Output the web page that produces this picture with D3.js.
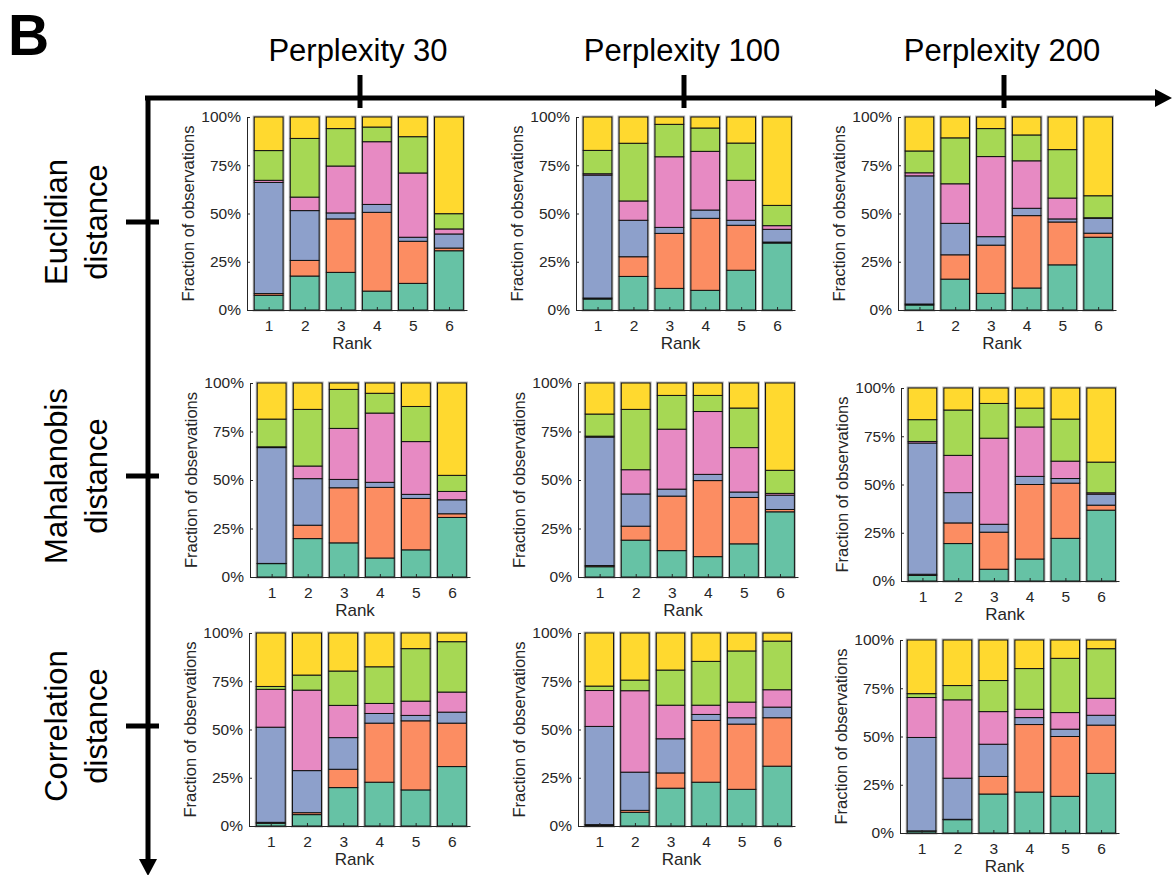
<!doctype html>
<html>
<head>
<meta charset="utf-8">
<title>Rank fractions by distance and perplexity</title>
<script src="https://d3js.org/d3.v7.min.js"></script>
<style>
  body { margin: 0; background: #fff; }
  text { font-family: "Liberation Sans", Arial, sans-serif; }
</style>
</head>
<body>
<script>

const w = 1172;
const h = 875;

// cumulative tops (in %) of the first five segments of each bar, bottom to top;
// the sixth (yellow) segment always runs up to 100%
const euc30 = [
  [7.6, 8.5, 66.1, 67.2, 82.6],
  [17.6, 25.7, 51.5, 58.5, 88.9],
  [19.5, 47.2, 50.3, 74.6, 94.0],
  [9.8, 50.6, 54.7, 87.2, 94.8],
  [13.8, 35.6, 37.7, 71.0, 89.8],
  [30.7, 32.1, 39.4, 42.0, 49.9]
];
const euc100 = [
  [5.7, 6.2, 69.9, 70.6, 82.7],
  [17.4, 27.6, 46.5, 56.5, 86.4],
  [11.2, 39.7, 42.8, 79.4, 96.2],
  [10.2, 47.5, 51.8, 82.2, 94.3],
  [20.6, 43.9, 46.5, 67.2, 86.5],
  [34.7, 35.2, 41.8, 43.7, 54.2]
];
const euc200 = [
  [2.6, 3.1, 69.5, 71.1, 82.4],
  [16.0, 28.6, 44.9, 65.4, 89.2],
  [8.6, 33.6, 38.0, 79.5, 94.0],
  [11.4, 48.9, 52.7, 77.3, 90.7],
  [23.4, 45.6, 47.2, 58.0, 83.1],
  [37.7, 39.8, 47.5, 47.8, 59.2]
];
const mah30 = [
  [6.9, 7.0, 66.7, 67.1, 81.4],
  [19.8, 26.7, 50.7, 57.2, 86.4],
  [17.6, 46.0, 50.3, 76.6, 96.7],
  [9.8, 46.2, 48.8, 84.5, 94.7],
  [14.0, 40.5, 42.6, 69.8, 87.9],
  [30.7, 32.6, 39.8, 44.1, 52.4]
];
const mah100 = [
  [5.3, 5.9, 72.1, 72.6, 84.0],
  [19.0, 26.2, 42.8, 55.3, 86.4],
  [13.6, 41.7, 45.3, 76.2, 93.6],
  [10.5, 49.7, 52.9, 85.3, 93.6],
  [17.1, 41.0, 43.8, 66.7, 87.1],
  [33.6, 34.8, 42.2, 43.1, 55.0]
];
const mah200 = [
  [2.9, 3.5, 71.5, 72.3, 83.6],
  [19.4, 30.1, 45.8, 65.1, 88.6],
  [6.1, 25.3, 29.4, 74.0, 92.0],
  [11.4, 50.0, 54.2, 79.8, 89.6],
  [22.1, 50.7, 53.1, 62.1, 83.9],
  [36.7, 39.3, 45.0, 45.7, 61.6]
];
const cor30 = [
  [1.4, 1.9, 51.2, 70.8, 72.3],
  [5.9, 6.9, 28.7, 70.4, 78.2],
  [19.9, 29.4, 45.8, 62.5, 80.3],
  [22.7, 53.3, 58.3, 63.5, 82.5],
  [18.7, 54.5, 57.3, 64.7, 91.9],
  [30.8, 53.3, 59.0, 69.4, 95.5]
];
const cor100 = [
  [0.5, 0.7, 51.6, 70.2, 72.5],
  [7.1, 8.1, 27.9, 70.1, 75.6],
  [19.6, 27.5, 45.2, 62.6, 80.8],
  [22.7, 54.7, 57.8, 62.6, 85.3],
  [19.0, 52.8, 56.1, 64.2, 90.7],
  [31.0, 56.1, 61.6, 70.6, 95.8]
];
const cor200 = [
  [1.0, 1.1, 49.5, 70.2, 72.2],
  [6.9, 7.1, 28.4, 69.0, 76.4],
  [20.2, 29.3, 46.0, 62.9, 79.0],
  [21.2, 56.2, 59.8, 64.1, 85.2],
  [19.0, 50.0, 53.8, 62.4, 90.5],
  [30.9, 55.9, 61.0, 69.8, 95.5]
];

const ranks = [1, 2, 3, 4, 5, 6];
const yTicks = [0, 25, 50, 75, 100];
const perplexities = ["Perplexity 30", "Perplexity 100", "Perplexity 200"];
const distances = [["Euclidian", "distance"], ["Mahalanobis", "distance"], ["Correlation", "distance"]];
const segColors = ["#66c2a5", "#fc8d62", "#8da0cb", "#e78ac3", "#a6d854", "#ffd92f"];

// panel boxes: left, right, top, bottom of each plot area
const panels = [
  { data: euc30,  box: [247, 467, 117, 310] },
  { data: euc100, box: [576, 795, 117, 310] },
  { data: euc200, box: [898, 1116, 117, 310] },
  { data: mah30,  box: [250, 470, 383, 577] },
  { data: mah100, box: [578, 798, 383, 577] },
  { data: mah200, box: [901, 1119, 388, 581] },
  { data: cor30,  box: [249, 470, 633, 826] },
  { data: cor100, box: [578, 795, 633, 826] },
  { data: cor200, box: [900, 1119, 640, 833] }
];

const svg = d3.select("body").append("svg")
  .attr("width", w)
  .attr("height", h);

// panel letter
svg.append("text")
  .attr("x", 8).attr("y", 55)
  .style("font-size", "57px").style("font-weight", "bold")
  .text("B");

// big frame with arrows
const frame = svg.append("g").attr("stroke", "#000").attr("stroke-width", 5);
frame.append("line").attr("x1", 145).attr("x2", 1158).attr("y1", 98).attr("y2", 98);
frame.append("line").attr("x1", 148).attr("x2", 148).attr("y1", 96).attr("y2", 862);
svg.append("path").attr("d", "M1172,98 L1155,89 L1155,107 Z").attr("fill", "#000");
svg.append("path").attr("d", "M148,876 L139,859 L157,859 Z").attr("fill", "#000");

const colTicks = [360, 684, 1004];
const rowTicks = [222, 476, 726];

colTicks.forEach(function(cx, i) {
  frame.append("line").attr("x1", cx).attr("x2", cx).attr("y1", 75).attr("y2", 108);
  svg.append("text")
    .attr("x", cx - 2).attr("y", 61)
    .attr("text-anchor", "middle")
    .style("font-size", "31px")
    .text(perplexities[i]);
});

rowTicks.forEach(function(cy, i) {
  frame.append("line").attr("x1", 126).attr("x2", 159).attr("y1", cy).attr("y2", cy);
  distances[i].forEach(function(line, j) {
    svg.append("text")
      .attr("transform", "translate(" + (67 + j * 40) + "," + cy + ") rotate(-90)")
      .attr("text-anchor", "middle")
      .style("font-size", "31px")
      .text(line);
  });
});

panels.forEach(function(p) {
  const [L, R, T, B] = p.box;
  const x = d3.scaleLinear().domain([0.4, 6.5]).range([L, R]);
  const y = d3.scaleLinear().domain([0, 100]).range([B, T]);
  const bw = x(1.8) - x(1);
  const g = svg.append("g");

  // turn cumulative tops into [from, to] pieces
  const bars = p.data.map(function(tops, i) {
    const edges = [0].concat(tops, [100]);
    return {
      rank: ranks[i],
      segs: segColors.map(function(c, k) { return { y0: edges[k], y1: edges[k + 1], color: c }; })
    };
  });

  const barG = g.selectAll(".bar")
    .data(bars)
    .enter().append("g")
    .attr("class", "bar");

  // soft grey halo around each bar
  barG.append("rect")
    .attr("x", d => x(d.rank) - bw / 2)
    .attr("width", bw)
    .attr("y", y(100))
    .attr("height", y(0) - y(100))
    .attr("fill", "none")
    .attr("stroke", "#b4b4b4")
    .attr("stroke-width", 3);

  barG.selectAll(".seg")
    .data(d => d.segs.map(s => Object.assign({ rank: d.rank }, s)))
    .enter().append("rect")
    .attr("class", "seg")
    .attr("x", d => x(d.rank) - bw / 2)
    .attr("width", bw)
    .attr("y", d => y(d.y1))
    .attr("height", d => y(d.y0) - y(d.y1))
    .attr("fill", d => d.color)
    .attr("stroke", "#111")
    .attr("stroke-width", 1);

  const yAxis = g.append("g")
    .attr("transform", "translate(" + L + ",0)")
    .call(d3.axisLeft(y).tickValues(yTicks).tickFormat(d => d + "%").tickSizeInner(-3).tickSizeOuter(0).tickPadding(6));

  const xAxis = g.append("g")
    .attr("transform", "translate(0," + B + ")")
    .call(d3.axisBottom(x).tickValues(ranks).tickFormat(d3.format("d")).tickSizeInner(-3).tickSizeOuter(0).tickPadding(10));

  [yAxis, xAxis].forEach(function(a) {
    a.select(".domain").attr("stroke", "#262626");
    a.selectAll(".tick line").attr("stroke", "#262626");
    a.selectAll("text").attr("fill", "#262626").style("font-size", "15.5px")
      .style("font-family", "'Liberation Sans', Arial, sans-serif");
  });

  g.append("text")
    .attr("x", (L + R) / 2 - 5)
    .attr("y", B + 39)
    .attr("text-anchor", "middle")
    .attr("fill", "#262626")
    .style("font-size", "17px")
    .text("Rank");

  g.append("text")
    .attr("transform", "translate(" + (L - 59) + "," + ((T + B) / 2) + ") rotate(-90)")
    .attr("text-anchor", "middle")
    .attr("dominant-baseline", "central")
    .attr("fill", "#262626")
    .style("font-size", "16.5px")
    .text("Fraction of observations");
});

</script>
</body>
</html>
